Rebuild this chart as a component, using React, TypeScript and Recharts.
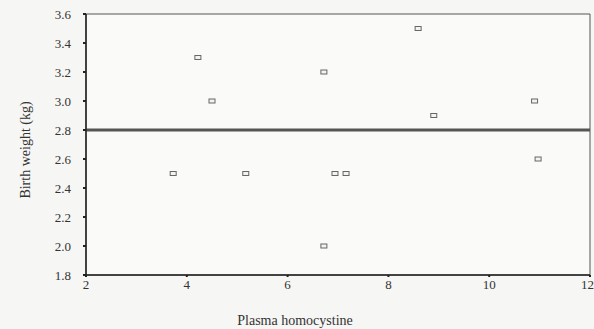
import React from "react";
import { ScatterChart, Scatter, XAxis, YAxis, ReferenceLine, ReferenceArea, Label } from "recharts";

const homocystine = [3.73, 4.22, 4.5, 5.17, 6.72, 6.72, 6.94, 7.16, 8.59, 8.9, 10.9, 10.97];
const birthWeight = [2.5, 3.3, 3.0, 2.5, 3.2, 2.0, 2.5, 2.5, 3.5, 2.9, 3.0, 2.6];
const xTicks = [2, 4, 6, 8, 10, 12];
const yTicks = [1.8, 2.0, 2.2, 2.4, 2.6, 2.8, 3.0, 3.2, 3.4, 3.6];
const meanWeight = 2.8;

const points = homocystine.map((x, i) => ({ x, y: birthWeight[i] }));

const font = "'Liberation Serif', 'Times New Roman', serif";

const Marker = (props: any) => {
  const { cx, cy } = props;
  return <rect x={cx - 3} y={cy - 2} width={6} height={4} fill="#f3f3f0" stroke="#666" strokeWidth={1} />;
};

const YTitle = () => (
  <text
    transform="translate(25,150) rotate(-90)"
    textAnchor="middle"
    dominantBaseline="central"
    style={{ fontFamily: font, fontSize: 14, fill: "#333" }}
  >
    Birth weight (kg)
  </text>
);

const XTitle = () => (
  <text x={295} y={320} textAnchor="middle" dominantBaseline="central" style={{ fontFamily: font, fontSize: 14, fill: "#333" }}>
    Plasma homocystine
  </text>
);

export default function App() {
  return (
    <div style={{ position: "absolute", left: 0, top: 0, width: 594, height: 329, background: "#f6f6f4" }}>
      <ScatterChart width={594} height={329} margin={{ top: 14, right: 4, bottom: 24, left: 0 }}>
        <ReferenceArea x1={2} x2={12} y1={1.8} y2={3.6} fill="#fafaf8" fillOpacity={1} stroke="#555" strokeWidth={1} ifOverflow="visible" />
        <XAxis
          type="number"
          dataKey="x"
          domain={[2, 12]}
          ticks={xTicks}
          height={30}
          tick={{ fontFamily: font, fontSize: 13, fill: "#333" }}
          tickLine={{ stroke: "#222", strokeWidth: 2 }}
          tickSize={2}
          tickMargin={3}
          axisLine={{ stroke: "#222", strokeWidth: 1.5 }}
        >
          <Label content={<XTitle />} />
        </XAxis>
        <YAxis
          type="number"
          dataKey="y"
          domain={[1.8, 3.6]}
          ticks={yTicks}
          width={86}
          tickFormatter={(v: number) => v.toFixed(1)}
          tick={{ fontFamily: font, fontSize: 13, fill: "#333" }}
          tickLine={{ stroke: "#222", strokeWidth: 2 }}
          tickSize={3}
          tickMargin={12}
          axisLine={{ stroke: "#222", strokeWidth: 1.5 }}
        >
          <Label content={<YTitle />} />
        </YAxis>
        <ReferenceLine y={meanWeight} stroke="#555" strokeWidth={3} />
        <Scatter data={points} shape={<Marker />} isAnimationActive={false} />
      </ScatterChart>
    </div>
  );
}
